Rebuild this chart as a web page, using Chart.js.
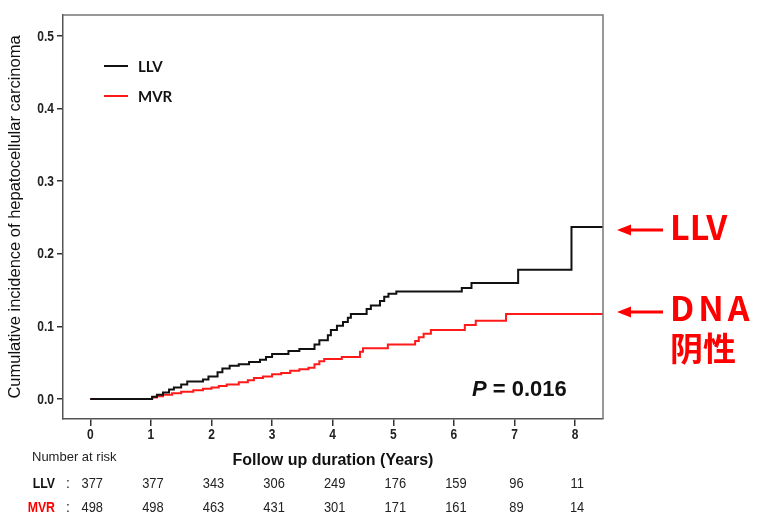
<!DOCTYPE html>
<html>
<head>
<meta charset="utf-8">
<script src="https://cdn.jsdelivr.net/npm/chart.js@4.4.1/dist/chart.umd.min.js"></script>
<style>
  html, body { margin: 0; padding: 0; background: #fff; }
</style>
</head>
<body>
<canvas id="kmChart" width="765" height="526"></canvas>
<script>
// ===== Cumulative incidence of HCC: LLV vs MVR =====

const seriesNames = ["LLV", "MVR"];
const seriesColors = ["#111111", "#ff1a1a"];

// step times (years) and the cumulative incidence from that time on
const llvTimes = [0, 1.02, 1.1, 1.2, 1.3, 1.38, 1.5, 1.6, 1.86, 1.95, 2.1, 2.18, 2.3, 2.45, 2.62, 2.8, 2.9, 3.0,
  3.27, 3.45, 3.7, 3.78, 3.92, 3.97, 4.07, 4.17, 4.25, 4.3, 4.56, 4.63, 4.78, 4.85, 4.92, 5.05, 6.13, 6.29, 7.06, 7.94];
const llvValues = [0, 0.003, 0.006, 0.009, 0.013, 0.016, 0.02, 0.024, 0.027, 0.031, 0.037, 0.042, 0.046, 0.048, 0.051, 0.054, 0.058, 0.062,
  0.066, 0.069, 0.075, 0.081, 0.088, 0.095, 0.101, 0.106, 0.112, 0.117, 0.124, 0.129, 0.135, 0.141, 0.145, 0.148, 0.153, 0.16, 0.178, 0.237];

const mvrTimes = [0, 1.02, 1.1, 1.2, 1.35, 1.5, 1.7, 1.86, 2.0, 2.12, 2.25, 2.45, 2.6, 2.7, 2.85, 3.0, 3.15, 3.3,
  3.45, 3.6, 3.7, 3.78, 3.86, 4.15, 4.45, 4.5, 4.91, 5.36, 5.42, 5.5, 5.62, 6.18, 6.36, 6.86];
const mvrValues = [0, 0.002, 0.004, 0.006, 0.008, 0.01, 0.012, 0.014, 0.016, 0.018, 0.02, 0.023, 0.026, 0.029, 0.031, 0.034, 0.036, 0.039,
  0.041, 0.043, 0.048, 0.052, 0.055, 0.058, 0.065, 0.07, 0.075, 0.08, 0.085, 0.09, 0.095, 0.102, 0.108, 0.117];

const followUpEnd = 8.46;

const xTicks = [0, 1, 2, 3, 4, 5, 6, 7, 8];
const yTicks = [0, 0.1, 0.2, 0.3, 0.4, 0.5];

// number at risk table
const riskTimes = [0, 1, 2, 3, 4, 5, 6, 7, 8];
const llvAtRisk = [377, 377, 343, 306, 249, 176, 159, 96, 11];
const mvrAtRisk = [498, 498, 463, 431, 301, 171, 161, 89, 14];

const pValue = "0.016";
const sideLabels = ["LLV", "DNA", "阴性"];

// Build step points, carrying the last value to the end of follow up
function stepPoints(times, values) {
  const pts = times.map((t, i) => ({ x: t, y: values[i] }));
  pts.push({ x: followUpEnd, y: values[values.length - 1] });
  return pts;
}

function drawArrow(ctx, xFrom, xTip, y) {
  ctx.strokeStyle = "#ff0000";
  ctx.fillStyle = "#ff0000";
  ctx.lineWidth = 3;
  ctx.beginPath();
  ctx.moveTo(xFrom, y);
  ctx.lineTo(xTip + 10, y);
  ctx.stroke();
  ctx.beginPath();
  ctx.moveTo(xTip, y);
  ctx.lineTo(xTip + 14, y - 5.5);
  ctx.lineTo(xTip + 14, y + 5.5);
  ctx.closePath();
  ctx.fill();
}

// condensed (narrow) text, like the original Arial Narrow labels
function narrowText(ctx, text, x, y, align, squeeze) {
  ctx.save();
  ctx.translate(x, y);
  ctx.scale(squeeze, 1);
  ctx.textAlign = align;
  ctx.fillText(text, 0, 0);
  ctx.restore();
}

// Tick labels, legend, P value, side notes, risk table
const overlayPlugin = {
  id: "overlay",
  afterDraw(chart) {
    const { ctx, chartArea: a, scales: { x, y } } = chart;
    ctx.save();

    // top + right of frame
    ctx.strokeStyle = "#777";
    ctx.lineWidth = 1.5;
    ctx.beginPath();
    ctx.moveTo(a.left, a.top);
    ctx.lineTo(a.right, a.top);
    ctx.lineTo(a.right, a.bottom);
    ctx.stroke();

    // tick labels
    ctx.fillStyle = "#222";
    ctx.font = "bold 15px 'Liberation Sans', Arial, sans-serif";
    ctx.textBaseline = "middle";
    yTicks.forEach(v => narrowText(ctx, v.toFixed(1), 54, y.getPixelForValue(v) + 0.5, "right", 0.8));
    xTicks.forEach(v => narrowText(ctx, String(v), x.getPixelForValue(v), 435, "center", 0.8));

    // legend
    chart.data.datasets.forEach((ds, i) => {
      const ly = a.top + 51 + i * 30;
      ctx.strokeStyle = ds.borderColor;
      ctx.lineWidth = 2;
      ctx.beginPath();
      ctx.moveTo(a.left + 41, ly);
      ctx.lineTo(a.left + 65, ly);
      ctx.stroke();
      ctx.fillStyle = "#111";
      ctx.font = "bold 15px Lato, 'Liberation Sans', sans-serif";
      ctx.textBaseline = "middle";
      ctx.textAlign = "left";
      ctx.fillText(ds.label, a.left + 75, ly + 1);
    });

    // P value
    ctx.fillStyle = "#111";
    ctx.textBaseline = "alphabetic";
    ctx.font = "italic bold 22px 'Liberation Sans', Arial, sans-serif";
    ctx.fillText("P", 472, 396);
    const pw = ctx.measureText("P").width;
    ctx.font = "bold 22px 'Liberation Sans', Arial, sans-serif";
    ctx.fillText(" = " + pValue, 472 + pw, 396);

    // side notes with arrows
    drawArrow(ctx, 663, 617, 230);
    drawArrow(ctx, 663, 617, 312);
    ctx.fillStyle = "#ff0000";
    ctx.font = "bold 34px 'Noto Sans CJK SC', sans-serif";
    ctx.fillText(sideLabels[0], 670, 240);
    ctx.letterSpacing = "4px";
    ctx.fillText(sideLabels[1], 670, 321);
    ctx.letterSpacing = "0px";
    ctx.font = "bold 33px 'Noto Sans CJK SC', sans-serif";
    ctx.fillText(sideLabels[2], 670, 361);

    // number at risk
    ctx.textBaseline = "middle";
    ctx.fillStyle = "#222";
    ctx.font = "13px 'Liberation Sans', Arial, sans-serif";
    ctx.fillText("Number at risk", 32, 457);

    const rows = [
      { name: seriesNames[0], color: "#111", counts: llvAtRisk, y: 484 },
      { name: seriesNames[1], color: "#ff0000", counts: mvrAtRisk, y: 508 }
    ];
    rows.forEach(row => {
      ctx.fillStyle = row.color;
      ctx.font = "bold 15px 'Liberation Sans', Arial, sans-serif";
      narrowText(ctx, row.name, 55, row.y, "right", 0.82);
      ctx.fillStyle = "#222";
      ctx.textAlign = "center";
      ctx.font = "14px 'Liberation Sans', Arial, sans-serif";
      ctx.fillText(":", 68, row.y);
      row.counts.forEach((n, i) => {
        narrowText(ctx, String(n), x.getPixelForValue(riskTimes[i]) + 2, row.y, "center", 0.92);
      });
    });

    ctx.restore();
  }
};

const ctx = document.getElementById("kmChart").getContext("2d");

new Chart(ctx, {
  type: "line",
  data: {
    datasets: [
      {
        label: seriesNames[0],
        data: stepPoints(llvTimes, llvValues),
        borderColor: seriesColors[0],
        borderWidth: 2,
        pointRadius: 0,
        stepped: "before",
        fill: false
      },
      {
        label: seriesNames[1],
        data: stepPoints(mvrTimes, mvrValues),
        borderColor: seriesColors[1],
        borderWidth: 2,
        pointRadius: 0,
        stepped: "before",
        fill: false
      }
    ]
  },
  options: {
    responsive: false,
    animation: false,
    devicePixelRatio: 1,
    layout: { padding: { top: 15, right: 162, bottom: 56, left: 0 } },
    plugins: {
      legend: { display: false },
      tooltip: { enabled: false }
    },
    scales: {
      x: {
        type: "linear",
        min: -0.45,
        max: followUpEnd,
        afterBuildTicks: scale => { scale.ticks = xTicks.map(v => ({ value: v })); },
        afterFit: scale => { scale.height = 51; },
        grid: { drawOnChartArea: false, tickLength: 7, color: "#333", lineWidth: 1.5 },
        border: { display: true, color: "#555", width: 1.5 },
        ticks: { display: false },
        title: {
          display: true,
          text: "Follow up duration (Years)",
          color: "#111",
          padding: { top: 0, bottom: 0 },
          font: { family: "'Liberation Sans', Arial, sans-serif", size: 16, weight: "bold" }
        }
      },
      y: {
        min: -0.0275,
        max: 0.529,
        afterBuildTicks: scale => { scale.ticks = yTicks.map(v => ({ value: v })); },
        afterFit: scale => { scale.width = 63; },
        grid: { drawOnChartArea: false, tickLength: 6, color: "#333", lineWidth: 1.5 },
        border: { display: true, color: "#555", width: 1.5 },
        ticks: { display: false },
        title: {
          display: true,
          text: "Cumulative incidence of hepatocellular carcinoma",
          color: "#111",
          padding: { top: 6, bottom: 0 },
          font: { family: "'Liberation Sans', Arial, sans-serif", size: 16.5 }
        }
      }
    }
  },
  plugins: [overlayPlugin]
});
</script>
</body>
</html>
